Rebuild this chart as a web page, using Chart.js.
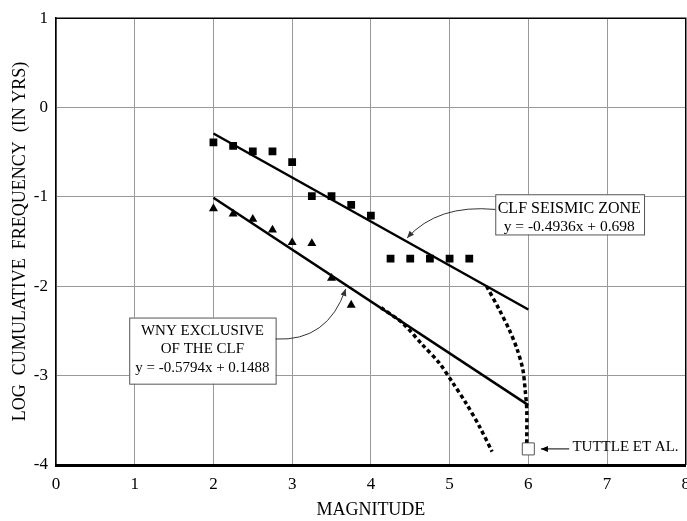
<!DOCTYPE html>
<html>
<head>
<meta charset="utf-8">
<script src="https://cdn.jsdelivr.net/npm/chart.js@4.4.1/dist/chart.umd.min.js"></script>
<style>
  html, body { margin: 0; padding: 0; background: #fff; overflow: hidden; }
  #wrap { width: 687px; height: 521px; overflow: hidden; }
</style>
</head>
<body>
<div id="wrap"><canvas id="myChart" width="699" height="521"></canvas></div>
<script>
// CLF seismic zone (filled squares)
const clfMagnitudes = [2, 2.25, 2.5, 2.75, 3, 3.25, 3.5, 3.75, 4, 4.25, 4.5, 4.75, 5, 5.25];
const clfLogFreq = [-0.39, -0.43, -0.49, -0.49, -0.61, -0.99, -0.99, -1.09, -1.21, -1.69, -1.69, -1.69, -1.69, -1.69];

// WNY exclusive of the CLF (filled triangles)
const wnyMagnitudes = [2, 2.25, 2.5, 2.75, 3, 3.25, 3.5, 3.75];
const wnyLogFreq = [-1.13, -1.19, -1.25, -1.37, -1.51, -1.52, -1.91, -2.21];

// regression lines, end points
const fitMagnitudes = [2, 6];
const clfFit = [-0.29, -2.26];
const wnyFit = [-1.01, -3.33];

// dotted roll-off curves
const clfCurveX = [5.47, 5.63, 5.76, 5.86, 5.93, 5.96, 5.98, 5.98];
const clfCurveY = [-2.0, -2.26, -2.49, -2.71, -2.93, -3.16, -3.38, -3.75];
const wnyCurveX = [4.13, 4.40, 4.65, 4.87, 5.04, 5.21, 5.38, 5.54];
const wnyCurveY = [-2.24, -2.41, -2.65, -2.86, -3.08, -3.31, -3.57, -3.85];

// Tuttle et al. (open square)
const tuttleX = [6];
const tuttleY = [-3.82];

const xTicks = [0, 1, 2, 3, 4, 5, 6, 7, 8];
const yTicks = [-4, -3, -2, -1, 0, 1];

const FONT = '"Liberation Serif", "DejaVu Serif", serif';

const toXY = (xs, ys) => xs.map((x, i) => ({ x: x, y: ys[i] }));

function arrowHead(ctx, x, y, fromX, fromY) {
    const a = Math.atan2(y - fromY, x - fromX);
    const len = 7, w = 3;
    ctx.beginPath();
    ctx.moveTo(x, y);
    ctx.lineTo(x - len * Math.cos(a) + w * Math.sin(a), y - len * Math.sin(a) - w * Math.cos(a));
    ctx.lineTo(x - len * Math.cos(a) - w * Math.sin(a), y - len * Math.sin(a) + w * Math.cos(a));
    ctx.closePath();
    ctx.fill();
}

// boxes, arrows and frame, placed in data units
const notes = {
    id: 'notes',
    afterDatasetsDraw(chart) {
        const ctx = chart.ctx;
        const sx = chart.scales.x, sy = chart.scales.y;
        const X = v => sx.getPixelForValue(v);
        const Y = v => sy.getPixelForValue(v);
        const area = chart.chartArea;
        ctx.save();

        // frame
        ctx.strokeStyle = '#000';
        ctx.lineWidth = 1.5;
        ctx.beginPath();
        ctx.moveTo(area.left, area.top);
        ctx.lineTo(area.right, area.top);
        ctx.lineTo(area.right, area.bottom);
        ctx.stroke();

        function box(x0, y0, x1, y1, lines, cx, ys, sizes) {
            ctx.fillStyle = '#fff';
            ctx.fillRect(X(x0), Y(y0), X(x1) - X(x0), Y(y1) - Y(y0));
            ctx.strokeStyle = '#555';
            ctx.lineWidth = 1;
            ctx.strokeRect(X(x0) + 0.5, Y(y0) + 0.5, X(x1) - X(x0), Y(y1) - Y(y0));
            ctx.fillStyle = '#000';
            ctx.textAlign = 'center';
            ctx.textBaseline = 'middle';
            lines.forEach((t, i) => {
                ctx.font = sizes[i] + 'px ' + FONT;
                ctx.fillText(t, X(cx), Y(ys[i]));
            });
        }

        function curvedArrow(x0, y0, cx, cy, x1, y1) {
            ctx.strokeStyle = '#333';
            ctx.fillStyle = '#333';
            ctx.lineWidth = 1;
            ctx.beginPath();
            ctx.moveTo(X(x0), Y(y0));
            ctx.quadraticCurveTo(X(cx), Y(cy), X(x1), Y(y1));
            ctx.stroke();
            arrowHead(ctx, X(x1), Y(y1), X(cx), Y(cy));
        }

        box(5.58, -0.97, 7.47, -1.42, ['CLF SEISMIC ZONE', 'y = -0.4936x + 0.698'], 6.52, [-1.13, -1.34], [16, 15.5]);
        curvedArrow(5.58, -1.14, 4.85, -1.08, 4.46, -1.46);

        box(0.93, -2.35, 2.79, -3.09, ['WNY EXCLUSIVE', 'OF THE CLF', 'y = -0.5794x + 0.1488'], 1.86, [-2.5, -2.7, -2.91], [15, 15, 15]);
        curvedArrow(2.79, -2.59, 3.45, -2.62, 3.68, -2.03);

        // Tuttle label
        ctx.strokeStyle = '#000';
        ctx.fillStyle = '#000';
        ctx.lineWidth = 1;
        ctx.beginPath();
        ctx.moveTo(X(6.52), Y(-3.82));
        ctx.lineTo(X(6.16), Y(-3.82));
        ctx.stroke();
        arrowHead(ctx, X(6.16), Y(-3.82), X(6.52), Y(-3.82));
        ctx.font = '15px ' + FONT;
        ctx.textAlign = 'left';
        ctx.textBaseline = 'middle';
        ctx.fillText('TUTTLE ET AL.', X(6.56), Y(-3.8));

        ctx.restore();
    }
};

const ctx = document.getElementById('myChart');

new Chart(ctx, {
    type: 'scatter',
    data: {
        datasets: [{
            data: toXY(clfMagnitudes, clfLogFreq),
            pointStyle: 'rect',
            pointRadius: 5.5,
            backgroundColor: '#000',
            borderColor: '#000',
            borderWidth: 0
        }, {
            data: toXY(wnyMagnitudes, wnyLogFreq),
            pointStyle: 'triangle',
            pointRadius: 5.2,
            backgroundColor: '#000',
            borderColor: '#000',
            borderWidth: 0
        }, {
            data: toXY(fitMagnitudes, clfFit),
            showLine: true,
            pointRadius: 0,
            borderColor: '#000',
            borderWidth: 2.5
        }, {
            data: toXY(fitMagnitudes, wnyFit),
            showLine: true,
            pointRadius: 0,
            borderColor: '#000',
            borderWidth: 2.5
        }, {
            data: toXY(clfCurveX, clfCurveY),
            showLine: true,
            pointRadius: 0,
            borderColor: '#000',
            borderWidth: 3.5,
            borderDash: [4, 3],
            tension: 0.3
        }, {
            data: toXY(wnyCurveX, wnyCurveY),
            showLine: true,
            pointRadius: 0,
            borderColor: '#000',
            borderWidth: 3.5,
            borderDash: [4, 3],
            tension: 0.3
        }, {
            data: toXY(tuttleX, tuttleY),
            pointStyle: 'rect',
            pointRadius: 8.5,
            backgroundColor: '#fff',
            borderColor: '#555',
            borderWidth: 1
        }]
    },
    options: {
        responsive: false,
        animation: false,
        layout: { padding: { top: 18, right: 0, left: 0, bottom: 0 } },
        plugins: {
            legend: { display: false },
            tooltip: { enabled: false }
        },
        scales: {
            x: {
                type: 'linear',
                min: 0,
                max: 8,
                afterBuildTicks: s => { s.ticks = xTicks.map(v => ({ value: v })); },
                afterFit: s => { s.height = 56; },
                grid: { color: '#999', lineWidth: 1, drawTicks: false },
                border: { color: '#000', width: 3 },
                ticks: { color: '#000', padding: 9, font: { family: FONT, size: 17 } },
                title: {
                    display: true,
                    text: 'MAGNITUDE',
                    color: '#000',
                    padding: { top: 0, bottom: 0 },
                    font: { family: FONT, size: 18 }
                }
            },
            y: {
                type: 'linear',
                min: -4,
                max: 1,
                afterBuildTicks: s => { s.ticks = yTicks.map(v => ({ value: v })); },
                afterFit: s => { s.width = 56; },
                grid: { color: '#999', lineWidth: 1, drawTicks: false },
                border: { color: '#000', width: 1.5 },
                ticks: { color: '#000', padding: 8, font: { family: FONT, size: 17 } },
                title: {
                    display: true,
                    text: 'LOG  CUMULATIVE  FREQUENCY  (IN YRS)',
                    color: '#000',
                    padding: { top: 9, bottom: 0 },
                    font: { family: FONT, size: 18 }
                }
            }
        }
    },
    plugins: [notes]
});
</script>
</body>
</html>
